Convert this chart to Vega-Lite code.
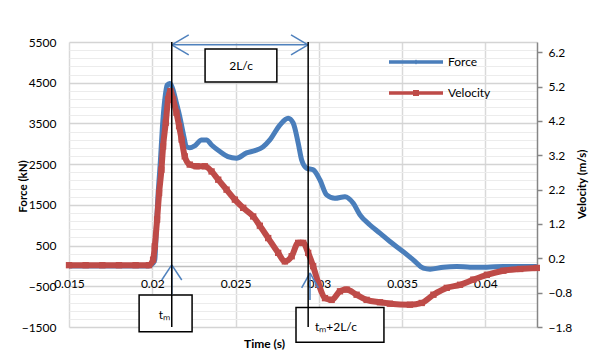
{
  "$schema": "https://vega.github.io/schema/vega-lite/v6.json",
  "width": 468,
  "height": 285,
  "autosize": {"type": "none"},
  "padding": {"left": 69, "top": 42, "right": 58, "bottom": 33},
  "background": "white",
  "config": {"view": {"stroke": null}, "font": "Lato", "axis": {"labelFont": "Lato", "titleFont": "Lato", "labelColor": "#000", "titleColor": "#000", "labelFontSize": 12}},
  "datasets": {
    "force": [
      {"t":0.015,"F":0},{"t":0.016,"F":0},{"t":0.017,"F":0},{"t":0.018,"F":0},{"t":0.019,"F":0},{"t":0.0198,"F":0},
      {"t":0.02003,"F":60},{"t":0.02015,"F":150},{"t":0.02025,"F":965},{"t":0.02033,"F":1620},{"t":0.02049,"F":2600},
      {"t":0.02061,"F":3420},{"t":0.02075,"F":4080},{"t":0.02089,"F":4440},{"t":0.02105,"F":4480},{"t":0.02125,"F":4320},
      {"t":0.02145,"F":4000},{"t":0.02165,"F":3670},{"t":0.02185,"F":3270},{"t":0.02206,"F":2930},{"t":0.02225,"F":2900},
      {"t":0.02255,"F":2950},{"t":0.02296,"F":3095},{"t":0.02326,"F":3095},{"t":0.02356,"F":2970},{"t":0.02406,"F":2810},
      {"t":0.02454,"F":2685},{"t":0.02506,"F":2645},{"t":0.02566,"F":2775},{"t":0.02616,"F":2830},{"t":0.02664,"F":2920},
      {"t":0.02706,"F":3095},{"t":0.02766,"F":3460},{"t":0.02816,"F":3625},{"t":0.02846,"F":3510},{"t":0.02876,"F":3020},
      {"t":0.02897,"F":2600},{"t":0.02927,"F":2400},{"t":0.02966,"F":2360},{"t":0.03007,"F":2110},{"t":0.03047,"F":1745},
      {"t":0.03097,"F":1660},{"t":0.03157,"F":1700},{"t":0.03207,"F":1540},{"t":0.03247,"F":1255},{"t":0.03307,"F":1005},
      {"t":0.03367,"F":805},{"t":0.03427,"F":600},{"t":0.03507,"F":350},{"t":0.03567,"F":150},{"t":0.03628,"F":-55},
      {"t":0.03668,"F":-80},{"t":0.03748,"F":-30},{"t":0.03828,"F":-15},{"t":0.03908,"F":-30},{"t":0.04009,"F":-30},
      {"t":0.04108,"F":-15},{"t":0.04209,"F":-15},{"t":0.04309,"F":-15}
    ],
    "velocity": [
      {"t":0.015,"V":0},{"t":0.016,"V":0},{"t":0.017,"V":0},{"t":0.018,"V":0},{"t":0.019,"V":0},{"t":0.0198,"V":0},
      {"t":0.02005,"V":0.16},{"t":0.02015,"V":0.55},{"t":0.02029,"V":1.33},{"t":0.02041,"V":2.10},{"t":0.02055,"V":2.78},
      {"t":0.02065,"V":3.46},{"t":0.02081,"V":4.15},{"t":0.02095,"V":4.83},{"t":0.02109,"V":5.07},{"t":0.02125,"V":4.83},
      {"t":0.02145,"V":4.44},{"t":0.02161,"V":4.05},{"t":0.02176,"V":3.66},{"t":0.02195,"V":3.17},{"t":0.02225,"V":2.93},
      {"t":0.02266,"V":2.88},{"t":0.02316,"V":2.88},{"t":0.02356,"V":2.73},{"t":0.02396,"V":2.49},{"t":0.02446,"V":2.20},
      {"t":0.02496,"V":1.91},{"t":0.02546,"V":1.67},{"t":0.02606,"V":1.42},{"t":0.02646,"V":1.15},{"t":0.02696,"V":0.79},
      {"t":0.02756,"V":0.36},{"t":0.02796,"V":0.11},{"t":0.02837,"V":0.26},{"t":0.02876,"V":0.65},{"t":0.02906,"V":0.65},
      {"t":0.02936,"V":0.36},{"t":0.02966,"V":-0.03},{"t":0.02997,"V":-0.52},{"t":0.03037,"V":-0.96},{"t":0.03077,"V":-1.01},
      {"t":0.03127,"V":-0.76},{"t":0.03167,"V":-0.71},{"t":0.03227,"V":-0.86},{"t":0.03287,"V":-1.01},{"t":0.03367,"V":-1.08},
      {"t":0.03427,"V":-1.12},{"t":0.03547,"V":-1.15},{"t":0.03618,"V":-1.10},{"t":0.03688,"V":-0.86},{"t":0.03768,"V":-0.66},
      {"t":0.03848,"V":-0.57},{"t":0.03928,"V":-0.42},{"t":0.04009,"V":-0.28},{"t":0.04108,"V":-0.16},{"t":0.04209,"V":-0.11},
      {"t":0.04309,"V":-0.08}
    ],
    "blueRules": [
      {"t":0.02117,"t2":0.02935,"f":5430,"f2":5430},
      {"t":0.02117,"t2":0.02219,"f":5430,"f2":5676},
      {"t":0.02117,"t2":0.02219,"f":5430,"f2":5184},
      {"t":0.02935,"t2":0.02833,"f":5430,"f2":5676},
      {"t":0.02935,"t2":0.02833,"f":5430,"f2":5184},
      {"t":0.02117,"t2":0.02117,"f":25,"f2":-712},
      {"t":0.02117,"t2":0.02057,"f":25,"f2":-345},
      {"t":0.02117,"t2":0.02177,"f":25,"f2":-345},
      {"t":0.02947,"t2":0.02947,"f":-172,"f2":-835},
      {"t":0.02947,"t2":0.02897,"f":-172,"f2":-540},
      {"t":0.02947,"t2":0.02997,"f":-172,"f2":-540}
    ],
    "blackRules": [
      {"t":0.02117,"f":5500,"f2":-1500},
      {"t":0.02936,"f":5500,"f2":-1500}
    ],
    "boxes": [
      {"t":0.02317,"t2":0.02748,"f":5330,"f2":4520},
      {"t":0.01921,"t2":0.02239,"f":-712,"f2":-1614},
      {"t":0.02863,"t2":0.03391,"f":-1024,"f2":-1874}
    ],
    "labels": [
      {"t":0.02533,"f":4912,"label":"2L/c"},
      {"t":0.02073,"f":-1203,"label":"tₘ"},
      {"t":0.03103,"f":-1491,"label":"tₘ+2L/c"}
    ]
  },
  "layer": [
    {
      "data": {"name": "force"},
      "mark": {"type": "point", "opacity": 0},
      "encoding": {
        "x": {"field": "t", "type": "quantitative", "scale": {"domain": [0.015, 0.0431], "nice": false, "zero": false},
          "axis": {"orient": "bottom", "values": [0.015,0.02,0.025,0.03,0.035,0.04], "grid": true, "gridColor": "#d9d9d9", "gridWidth": 1.5, "labels": false, "ticks": false, "domain": false,
            "title": "Time (s)", "titleFontWeight": "bold", "titleFontSize": 12, "titleX": 195, "titleY": 20, "titleAlign": "center", "titleBaseline": "alphabetic"}},
        "y": {"field": "F", "type": "quantitative", "scale": {"domain": [-1500, 5500], "nice": false, "zero": false},
          "axis": {"orient": "left", "values": [-1300,-1100,-900,-700,-300,-100,100,300,700,900,1100,1300,1700,1900,2100,2300,2700,2900,3100,3300,3700,3900,4100,4300,4700,4900,5100,5300],
            "grid": true, "gridColor": "#ececec", "gridWidth": 1.2, "labels": false, "ticks": false, "domain": false, "title": null}}
      }
    },
    {
      "data": {"name": "force"},
      "encoding": {
        "x": {"field": "t", "type": "quantitative", "scale": {"domain": [0.015, 0.0431], "nice": false, "zero": false},
          "axis": {"orient": "bottom", "values": [0.015,0.02,0.025,0.03,0.035,0.04], "format": "~g", "offset": -61, "grid": false, "ticks": false,
            "labelFlush": false, "labelOverlap": false, "labelBound": false,
            "domainColor": "#bfbfbf", "domainWidth": 1.5, "labelPadding": 12, "title": null}},
        "y": {"field": "F", "type": "quantitative", "scale": {"domain": [-1500, 5500], "nice": false, "zero": false},
          "axis": {"orient": "left", "values": [-1500,-500,500,1500,2500,3500,4500,5500], "format": "d", "grid": true, "gridColor": "#d4d4d4", "gridWidth": 1.5,
            "ticks": false, "domain": false, "labelPadding": 13, "labelFlush": false, "labelOverlap": false,
            "title": "Force (kN)", "titleFontWeight": "bold", "titleFontSize": 11.5, "titleAngle": 270, "titleX": -46, "titleY": 144, "titleAlign": "center", "titleBaseline": "middle"}}
      },
      "layer": [
        {
          "mark": {"type": "line", "strokeWidth": 5, "interpolate": "monotone"},
          "encoding": {
            "color": {"datum": "Force", "type": "nominal", "scale": {"domain": ["Force", "Velocity"], "range": ["#4a7ebb", "#be4b48"]},
              "legend": {"title": null, "orient": "none", "legendX": 332, "legendY": 5, "direction": "vertical", "symbolSize": 900,
                "symbolType": "M-1.8,-0.11H1.8V0.11H-1.8Z", "labelOffset": 17, "rowPadding": 10, "padding": 0, "labelFontSize": 12, "labelColor": "#000", "labelFont": "Lato",
                "symbolStrokeWidth": 0,
                "encode": {"symbols": {"update": {
                  "shape": {"signal": "datum.value === 'Force' ? 'M-1.8,-0.11H1.8V0.11H-1.8Z M0,-0.17L0.17,0L0,0.17L-0.17,0Z' : 'M-1.8,-0.11H1.8V0.11H-1.8Z M-0.2,-0.2H0.2V0.2H-0.2Z'"},
                  "fill": {"signal": "datum.value === 'Force' ? '#4a7ebb' : '#be4b48'"},
                  "strokeWidth": {"value": 0},
                  "opacity": {"value": 1}
                }}}}}
          }
        },
        {
          "mark": {"type": "point", "shape": "diamond", "filled": true, "size": 18, "color": "#4a7ebb", "opacity": 1}
        }
      ]
    },
    {
      "data": {"name": "velocity"},
      "encoding": {
        "x": {"field": "t", "type": "quantitative", "scale": {"domain": [0.015, 0.0431], "nice": false, "zero": false}, "axis": null},
        "y": {"field": "V", "type": "quantitative", "scale": {"domain": [-1.8, 6.5], "nice": false, "zero": false},
          "axis": {"orient": "right", "values": [-1.8,-0.8,0.2,1.2,2.2,3.2,4.2,5.2,6.2], "format": ".1f", "grid": false, "labelFlush": false, "labelOverlap": false,
            "domain": true, "domainColor": "#868686", "domainWidth": 1.5, "ticks": true, "tickColor": "#868686", "tickSize": 5, "tickWidth": 1.5, "labelPadding": 6,
            "title": "Velocity (m/s)", "titleFontWeight": "bold", "titleFontSize": 11.5, "titleAngle": 270, "titleX": 45, "titleY": 142, "titleAlign": "center", "titleBaseline": "middle"}}
      },
      "layer": [
        {
          "mark": {"type": "line", "strokeWidth": 6, "interpolate": "monotone"},
          "encoding": {"color": {"datum": "Velocity", "type": "nominal"}}
        },
        {
          "mark": {"type": "point", "shape": "square", "filled": true, "size": 40, "color": "#be4b48", "opacity": 1}
        }
      ]
    },
    {
      "encoding": {},
      "layer": [
        {
          "data": {"name": "boxes"},
          "mark": {"type": "rect", "fill": "white", "stroke": "black", "strokeWidth": 1.5},
          "encoding": {
            "x": {"field": "t", "type": "quantitative", "scale": {"domain": [0.015, 0.0431], "nice": false, "zero": false}, "axis": null},
            "x2": {"field": "t2"},
            "y": {"field": "f", "type": "quantitative", "scale": {"domain": [-1500, 5500], "nice": false, "zero": false}, "axis": null},
            "y2": {"field": "f2"}
          }
        },
        {
          "data": {"name": "blueRules"},
          "mark": {"type": "rule", "color": "#4f81bd", "strokeWidth": 1.5},
          "encoding": {
            "x": {"field": "t", "type": "quantitative", "axis": null},
            "x2": {"field": "t2"},
            "y": {"field": "f", "type": "quantitative", "axis": null},
            "y2": {"field": "f2"}
          }
        },
        {
          "data": {"name": "blackRules"},
          "mark": {"type": "rule", "color": "black", "strokeWidth": 1.5},
          "encoding": {
            "x": {"field": "t", "type": "quantitative", "axis": null},
            "y": {"field": "f", "type": "quantitative", "axis": null},
            "y2": {"field": "f2"}
          }
        },
        {
          "data": {"name": "labels"},
          "mark": {"type": "text", "font": "Lato", "fontSize": 12, "color": "black", "align": "center", "baseline": "middle"},
          "encoding": {
            "x": {"field": "t", "type": "quantitative", "axis": null},
            "y": {"field": "f", "type": "quantitative", "axis": null},
            "text": {"field": "label"}
          }
        }
      ]
    }
  ],
  "resolve": {"scale": {"x": "independent", "y": "independent"}}
}
